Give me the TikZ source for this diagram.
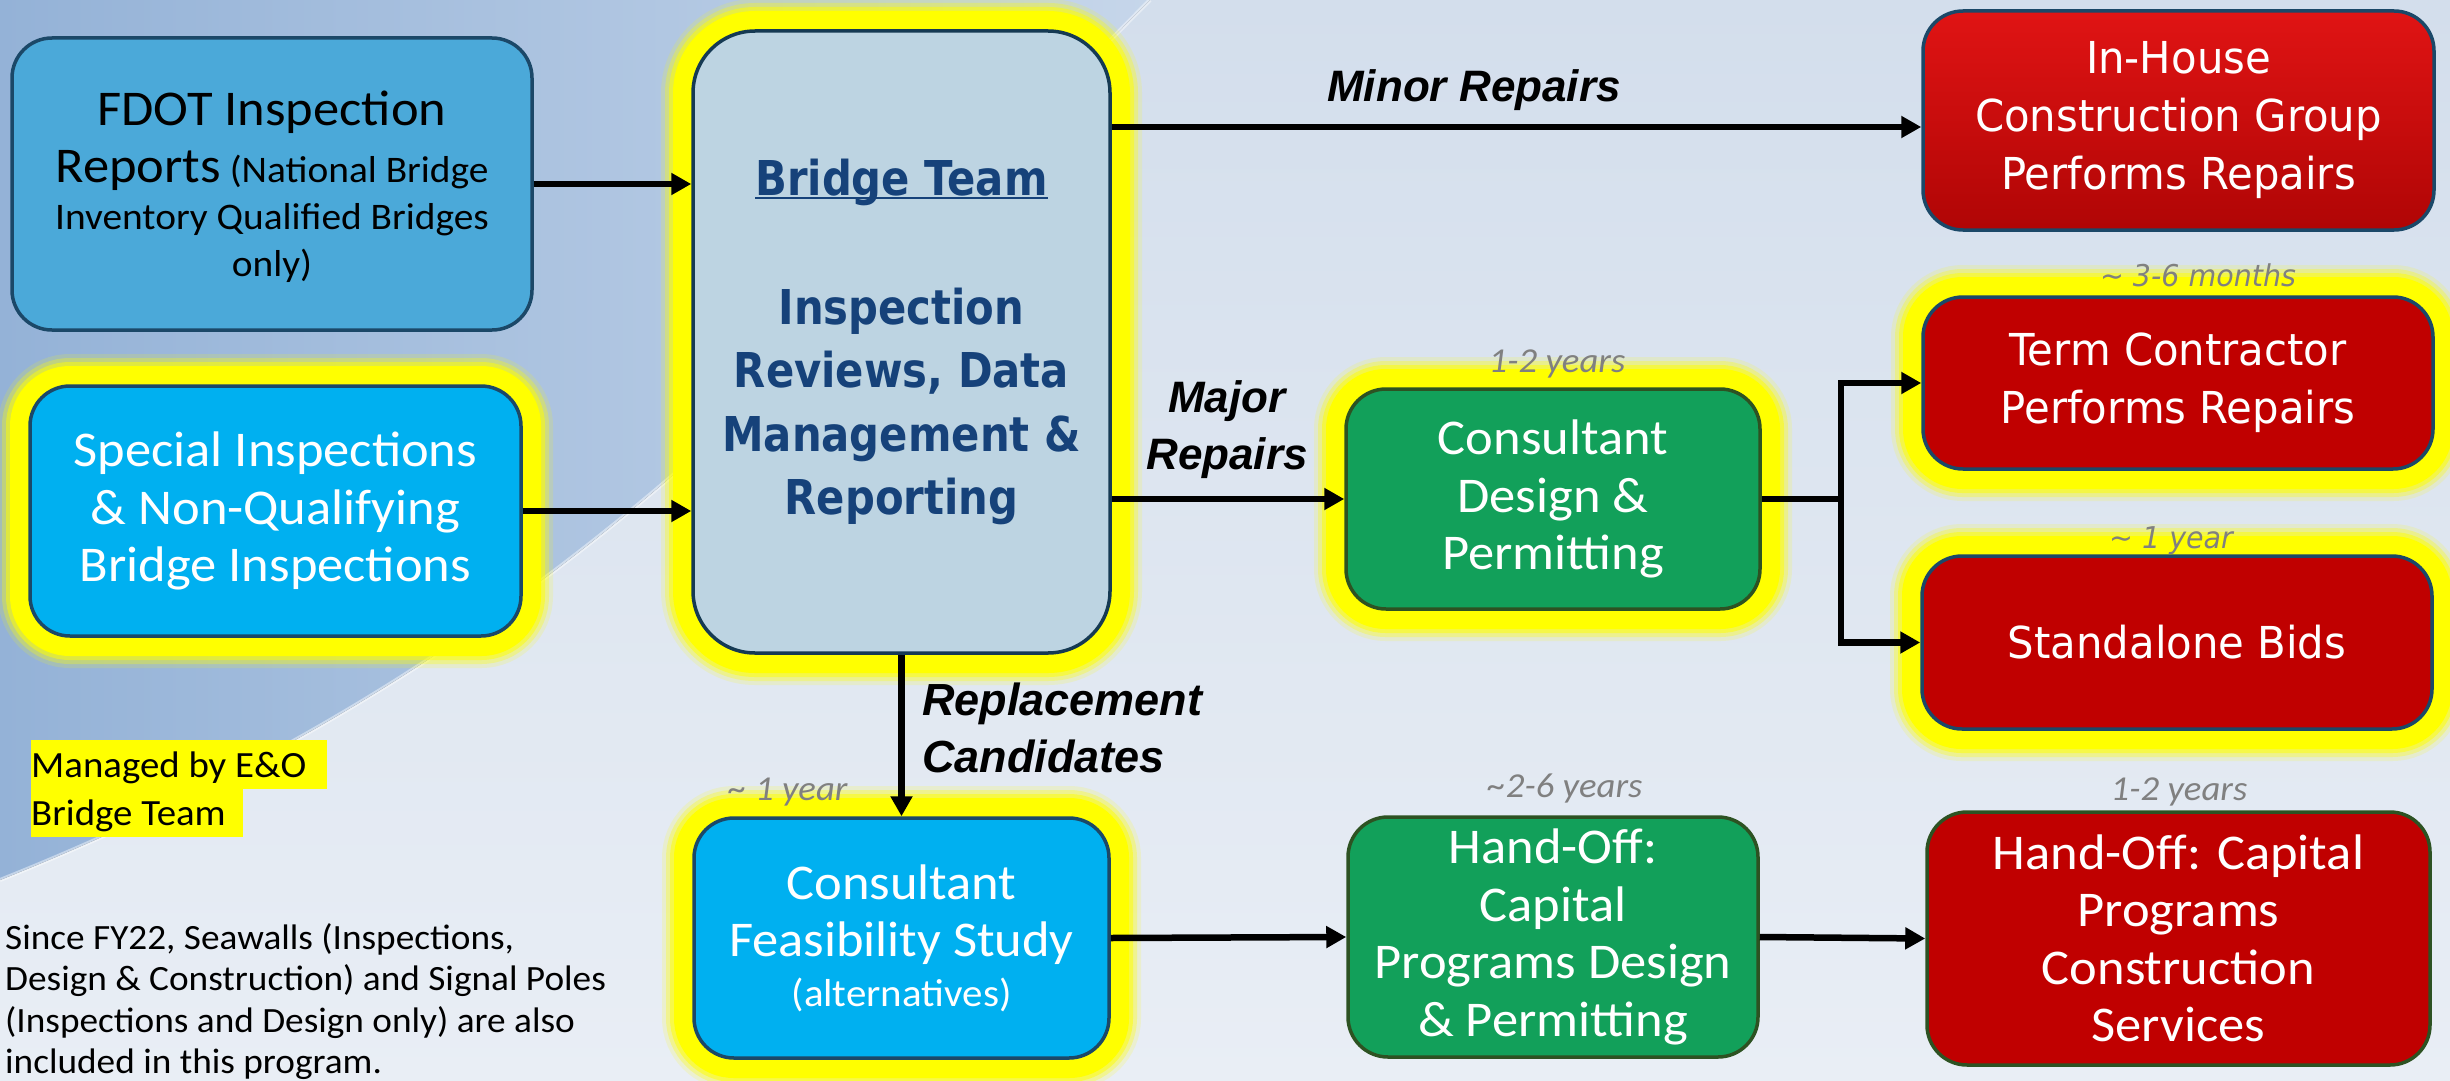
\documentclass[tikz,border=0pt]{standalone}
\usepackage{fontspec}
\setmainfont{Carlito}[FakeStretch=1.05]
\newfontfamily\vfont[FakeStretch=0.95,ItalicFont={DejaVu Sans Oblique},BoldFont={DejaVu Sans Bold}]{DejaVu Sans}
\newfontfamily\btfont[FakeStretch=0.87]{DejaVu Sans Bold}
\newfontfamily\lfont{Liberation Sans}
\usetikzlibrary{arrows.meta,calc}
\definecolor{bgtop}{HTML}{D3DEEC}
\definecolor{bgbot}{HTML}{E9EEF5}
\definecolor{bgblue}{HTML}{94B2D7}
\definecolor{bgblue2}{HTML}{C6D6EA}
\definecolor{fdotblue}{HTML}{4BA9D9}
\definecolor{cyanbox}{HTML}{00B0F0}
\definecolor{navy}{HTML}{1B4868}
\definecolor{bridgefill}{HTML}{BDD4E2}
\definecolor{bridgetext}{HTML}{16427A}
\definecolor{gbox}{HTML}{12A05A}
\definecolor{gborder}{HTML}{2D5222}
\definecolor{rbox}{HTML}{C00000}
\definecolor{rtop}{HTML}{E01414}
\definecolor{rmid}{HTML}{CC0808}
\definecolor{rbot}{HTML}{B00505}
\definecolor{glowy}{HTML}{FFFF00}
\definecolor{durgray}{HTML}{808080}
\newsavebox{\ulbox}
\newcommand\ulbt[1]{\sbox{\ulbox}{#1}\rlap{\rule[-3pt]{\wd\ulbox}{2pt}}\usebox{\ulbox}}
\begin{document}
\begin{tikzpicture}[x=1pt,y=-1pt,
 bx/.style={rounded corners=40pt, line width=3.5pt, draw=navy, inner sep=0pt, align=center},
 yglow/.style={preaction={draw=glowy,line width=64pt,opacity=0.15},
               preaction={draw=glowy,line width=56pt,opacity=0.3},
               preaction={draw=glowy,line width=48pt,opacity=0.5},
               preaction={draw=glowy,line width=40pt}},
 ctext/.style={font=\fontsize{50}{57.5}\selectfont, text=white},
 vtext/.style={font=\vfont\fontsize{44}{58}\selectfont, text=white},
 arr/.style={draw=black, line width=6.5pt, -{Triangle[length=20pt,width=21pt]}},
 lbl/.style={font=\lfont\bfseries\itshape\fontsize{44}{57}\selectfont, inner sep=0pt},
 dur/.style={text=durgray, inner sep=0pt, anchor=base},
 hl/.style={fill=glowy, inner xsep=0pt, inner ysep=0pt, text height=37pt, text depth=11.5pt, anchor=base west, font=\fontsize{37}{48}\selectfont}
]
\useasboundingbox (0,0) rectangle (2450,1081);
% background
\fill[top color=bgtop, bottom color=bgbot] (0,0) rectangle (2450,1081);
\fill[left color=bgblue, right color=bgblue2] (0,0) -- (1150,0) .. controls (850,300) and (600,640) .. (0,880) -- cycle;
\draw[white, opacity=0.45, line width=4pt] (1150,0) .. controls (850,300) and (600,640) .. (0,880);

% boxes
\node[bx, fill=fdotblue, minimum width=520pt, minimum height=292pt, font=\fontsize{37.5}{47}\selectfont] (fdot) at (272,184)
 {\rule{0pt}{41pt}{\fontsize{50}{57}\selectfont FDOT Inspection}\\[10pt]{\fontsize{50}{57}\selectfont Reports} (National Bridge\\Inventory Qualified Bridges\\only)};
\node[bx, yglow, fill=cyanbox, ctext, minimum width=491pt, minimum height=250pt] (special) at (275.5,511)
 {Special Inspections\\\& Non-Qualifying\\Bridge Inspections};
\node[bx, yglow, rounded corners=62pt, draw=navy!80!black, fill=bridgefill, minimum width=417pt, minimum height=622pt,
 text=bridgetext, font=\btfont\fontsize{48}{63.5}\selectfont] (bridge) at (901.5,342)
 {\ulbt{Bridge Team}\\[65pt]Inspection\\Reviews, Data\\Management \&\\Reporting};
\node[bx, top color=rtop, middle color=rmid, bottom color=rbot, vtext, minimum width=511pt, minimum height=219pt] (inhouse) at (2178.5,120.5)
 {In-House\\Construction Group\\Performs Repairs};
\node[bx, yglow, fill=rbox, vtext, minimum width=510pt, minimum height=172pt] (term) at (2178,383)
 {Term Contractor\\Performs Repairs};
\node[bx, yglow, fill=rbox, vtext, minimum width=510pt, minimum height=173pt] (standalone) at (2177,642.5)
 {Standalone Bids};
\node[bx, yglow, draw=gborder, fill=gbox, ctext, minimum width=414pt, minimum height=220pt] (cdesign) at (1553,499)
 {Consultant\\Design \&\\Permitting};
\node[bx, yglow, fill=cyanbox, ctext, minimum width=415pt, minimum height=240pt] (feas) at (901.5,938)
 {Consultant\\Feasibility Study\\[-8pt]{\fontsize{39}{45}\selectfont (alternatives)}};
\node[bx, draw=gborder, fill=gbox, ctext, minimum width=410pt, minimum height=240pt] (handoff) at (1553,937)
 {Hand-Off:\\Capital\\Programs Design\\\& Permitting};
\node[bx, draw=gborder, fill=rbox, ctext, minimum width=503pt, minimum height=253pt] (capcon) at (2178.5,938.5)
 {Hand-Off: Capital\\Programs\\Construction\\Services};

% connectors
\draw[arr] (fdot.east) -- (fdot.east -| bridge.west);
\draw[arr] (special.east) -- (special.east -| bridge.west);
\draw[arr] (bridge.east |- 0,127) -- (inhouse.west |- 0,127);
\draw[arr] (bridge.east |- cdesign.west) -- (cdesign.west);
\coordinate (split) at (1841,499);
\draw[line width=6.5pt] (cdesign.east) -- (split);
\draw[arr] (split) |- (term.west);
\draw[arr] (split) |- (standalone.west);
\draw[arr] (bridge.south) -- (feas.north);
\draw[arr] (feas.east) -- (handoff.west);
\draw[arr] (handoff.east) -- (capcon.west);

% connector labels
\node[lbl, anchor=base] (minor) at (1474,102) {Minor Repairs};
\node[lbl, align=center] (major) at (1227,430) {Major\\Repairs};
\node[lbl, align=left, anchor=west, font=\lfont\bfseries\itshape\fontsize{45}{57}\selectfont] (repl) at (922,727.5) {Replacement\\Candidates};

% durations
\node[dur, font=\itshape\fontsize{35}{40}\selectfont] (d1) at (1557,372) {1-2 years};
\node[dur, font=\vfont\itshape\fontsize{30}{36}\selectfont] (d2) at (2198,286) {\textasciitilde{} 3-6 months};
\node[dur, font=\vfont\itshape\fontsize{30}{36}\selectfont] (d3) at (2171,548) {\textasciitilde{} 1 year};
\node[dur, font=\itshape\fontsize{35}{40}\selectfont] (d4) at (788,800) {\textasciitilde{} 1 year};
\node[dur, font=\itshape\fontsize{35}{40}\selectfont] (d5) at (1565,797) {\textasciitilde2-6 years};
\node[dur, font=\itshape\fontsize{35}{40}\selectfont] (d6) at (2179,800) {1-2 years};

% notes
\node[hl] (mg1) at (31,777) {Managed by E\&O\kern21pt};
\node[hl] (mg2) at (31,825) {Bridge Team\kern17pt};
\node[anchor=north west, align=left, inner sep=0pt, font=\fontsize{35.5}{41.5}\selectfont] (note) at (5,923)
 {Since FY22, Seawalls (Inspections,\\Design \& Construction) and Signal Poles\\(Inspections and Design only) are also\\included in this program.};
\end{tikzpicture}
\end{document}
